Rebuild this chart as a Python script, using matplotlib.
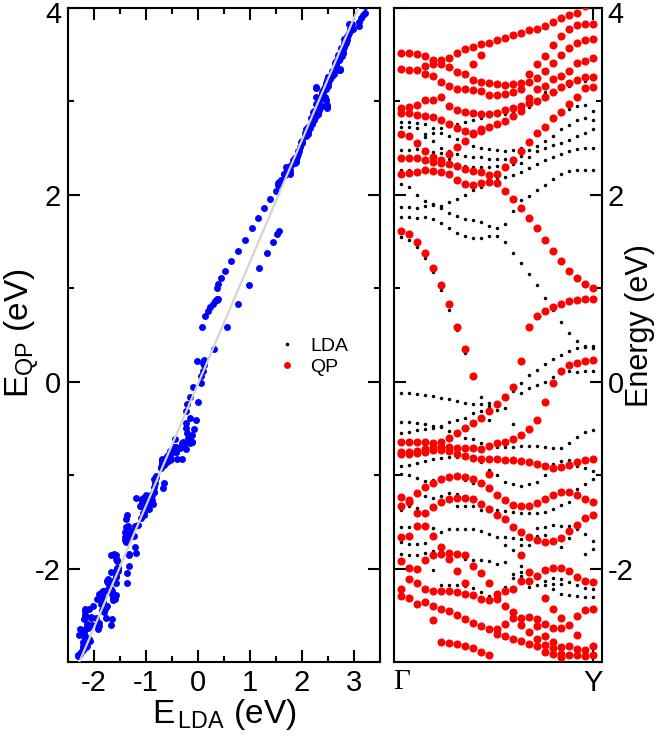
import numpy as np
import matplotlib
matplotlib.use("Agg")
import matplotlib.pyplot as plt
from matplotlib.ticker import MultipleLocator
from matplotlib.lines import Line2D
from matplotlib.transforms import ScaledTranslation

nan = np.nan

# k-path Gamma -> Y, 25 points
kpts = np.arange(25)
k_labels = ["\u0393", "Y"]

# ---- conduction bands: QP (red) and matching LDA (black), eV
qp01 = [3.52, 3.52, 3.51, 3.49, 3.44, 3.44, 3.47, 3.52, 3.56, 3.58, 3.61, 3.63, 3.66, 3.68, 3.71, 3.73, 3.76, 3.78, 3.81, 3.85, 3.89, 3.92, 3.95, 4.02, 4.08]
qp02 = [3.35, 3.34, 3.34, 3.29, 3.27, 3.21, 3.16, 3.13, 3.13, 3.12, 3.11, 3.07, 3.07, 3.08, 3.10, 3.13, 3.21, 3.25, 3.33, 3.41, 3.50, 3.57, 3.63, 3.66, 3.67]
qp03 = [nan, nan, nan, 3.38, 3.40, 3.40, 3.37, 3.32, 3.29, 3.23, 3.21, 3.20, 3.19, 3.18, 3.19, 3.20, 3.29, 3.40, 3.49, 3.60, 3.70, 3.77, 3.82, 3.83, 3.83]
qp04 = [2.93, 2.94, 2.96, 3.01, 3.02, 3.05, 2.95, 2.91, 2.89, 2.88, 2.87, 2.87, 2.88, 2.91, 2.93, 2.95, 3.04, 3.13, 3.17, 3.24, 3.27, 3.33, 3.41, 3.43, 3.46]
qp05 = [2.88, 2.88, 2.86, 2.84, 2.83, 2.80, 2.76, 2.72, 2.68, 2.66, 2.68, 2.73, 2.76, 2.79, 2.84, 2.90, 2.98, 3.00, 3.05, 3.10, 3.15, 3.20, 3.23, 3.26, 3.26]
qp06 = [2.65, 2.63, 2.56, 2.47, 2.40, 2.37, 2.44, 2.51, 2.58, 2.65, 2.70, nan, nan, nan, nan, nan, nan, nan, nan, nan, nan, nan, nan, nan, nan]
qp07 = [2.39, 2.39, 2.39, 2.37, 2.35, 2.34, 2.33, 2.31, 2.28, 2.26, 2.24, 2.21, 2.22, 2.30, 2.37, 2.47, 2.57, 2.66, 2.73, 2.82, 2.89, 2.97, 3.05, 3.14, 3.15]
qp08 = [2.22, 2.23, 2.24, 2.27, 2.26, 2.24, 2.22, 2.16, 2.12, 2.11, 2.13, 2.14, 2.13, 2.04, 1.96, 1.86, 1.75, 1.64, 1.52, 1.40, 1.29, 1.18, 1.11, 1.05, 1.00]
qp09 = [1.61, 1.58, 1.50, 1.38, 1.22, 1.04, 0.83, 0.59, 0.35, 0.06, nan, nan, nan, nan, nan, nan, nan, nan, nan, nan, nan, nan, nan, nan, nan]

ld01 = [2.78, 2.78, 2.77, 2.76, 2.72, 2.72, 2.74, 2.76, 2.78, 2.80, 2.82, 2.84, 2.86, 2.87, 2.89, 2.91, 2.94, 2.98, 3.10, 3.09, 3.14, 3.17, 3.21, 3.22, 3.24]
ld02 = [2.73, 2.73, 2.72, 2.62, 2.58, 2.50, 2.47, 2.44, 2.42, 2.41, 2.40, 2.38, 2.38, 2.38, 2.39, 2.42, 2.48, 2.52, 2.58, 2.63, 2.70, 2.75, 2.80, 2.82, 2.80]
ld03 = [nan, nan, nan, 2.65, 2.66, 2.66, 2.63, 2.60, 2.57, 2.52, 2.50, 2.49, 2.48, 2.47, 2.48, 2.50, 2.58, 2.65, 2.72, 2.80, 2.87, 2.92, 2.95, 2.96, 2.90]
ld04 = [2.48, 2.48, 2.49, 2.47, 2.46, 2.45, 2.38, 2.33, 2.31, 2.30, 2.30, 2.30, 2.31, 2.32, 2.33, 2.34, 2.40, 2.47, 2.50, 2.53, 2.56, 2.59, 2.63, 2.66, 2.70]
ld05 = [2.27, 2.27, 2.26, 2.26, 2.25, 2.24, 2.20, 2.15, 2.11, 2.09, 2.11, 2.14, 2.17, 2.19, 2.21, 2.24, 2.29, 2.33, 2.37, 2.41, 2.44, 2.47, 2.49, 2.50, 2.50]
ld06 = [2.12, 2.08, 2.00, 1.93, 1.90, 1.88, 1.92, 1.96, 2.00, 2.05, 2.08, nan, nan, nan, nan, nan, nan, nan, nan, nan, nan, nan, nan, nan, nan]
ld07 = [1.87, 1.87, 1.86, 1.88, 1.89, 1.86, 1.81, 1.77, 1.74, 1.73, 1.71, 1.67, 1.65, 1.69, 1.83, 1.95, 1.99, 2.05, 2.11, 2.17, 2.22, 2.26, 2.27, 2.27, 2.27]
ld08 = [1.76, 1.76, 1.75, 1.76, 1.74, 1.70, 1.65, 1.59, 1.56, 1.54, 1.54, 1.56, 1.56, 1.50, 1.38, 1.27, 1.15, 1.03, 0.90, 0.77, 0.64, 0.52, 0.44, 0.38, 0.36]
ld09 = [1.55, 1.52, 1.44, 1.32, 1.17, 0.98, 0.77, 0.55, 0.31, 0.05, nan, nan, nan, nan, nan, nan, nan, nan, nan, nan, nan, nan, nan, nan, nan]

# ---- valence bands: QP (red) and matching LDA (black), eV
qv01 = [-0.64, -0.64, -0.64, -0.65, -0.66, -0.65, -0.60, -0.55, -0.50, -0.44, -0.39, -0.31, -0.24, -0.16, -0.06, 0.22, 0.59, 0.70, 0.76, 0.80, 0.83, 0.86, 0.87, 0.88, 0.89]
qv02 = [-0.75, -0.75, -0.74, -0.72, -0.70, -0.70, -0.70, -0.71, -0.71, -0.71, -0.72, -0.69, -0.66, -0.64, -0.61, -0.57, -0.51, -0.41, -0.22, -0.01, 0.11, 0.18, 0.20, 0.22, 0.23]
qv03 = [-0.77, -0.77, -0.76, -0.75, -0.73, -0.73, -0.74, -0.77, -0.80, -0.82, -0.83, -0.83, -0.83, -0.84, -0.84, -0.85, -0.86, -0.88, -0.90, -0.92, -0.91, -0.89, -0.86, -0.84, -0.83]
qv04 = [-1.23, -1.27, -1.19, -1.13, -1.08, -1.04, -1.02, -1.01, -1.02, -1.04, -1.08, -1.14, -1.21, -1.27, -1.32, -1.33, -1.33, -1.30, -1.25, -1.21, -1.18, -1.18, -1.21, -1.26, -1.29]
qv05 = [-1.33, -1.29, -1.40, -1.41, -1.34, -1.29, -1.25, -1.24, -1.24, -1.26, -1.31, -1.36, -1.43, -1.47, -1.56, -1.61, -1.66, -1.69, -1.72, -1.71, -1.67, -1.60, -1.53, -1.46, -1.43]
qv06 = [-1.66, -1.65, -1.54, -1.54, -1.65, -1.77, -1.83, -1.84, -1.86, -1.97, -2.05, -2.15, -2.27, -2.24, -2.22, -1.85, -2.04, -2.08, -2.02, -1.99, -1.99, -2.03, -2.09, -2.13, -2.14]
qv07 = [-1.92, -1.99, -2.00, -1.91, -1.86, -1.84, -1.90, -2.03, -2.15, -2.28, -2.33, -2.34, -2.33, -2.40, -2.47, -2.13, -2.13, -2.54, -2.32, -2.43, -2.53, -2.60, -2.51, -2.44, -2.43]
qv08 = [-2.22, -2.11, -2.15, -2.22, -2.24, -2.24, -2.24, -2.25, -2.27, -2.58, -2.62, -2.65, -2.65, -2.59, -2.53, -2.53, -2.52, -2.61, -2.59, -2.64, -2.64, -2.83, -2.71, -2.87, -2.83]
qv09 = [-2.29, -2.31, -2.38, -2.36, -2.40, -2.43, -2.45, -2.50, -2.54, -2.85, -2.89, -2.92, -2.70, -2.72, -2.75, -2.60, -2.68, -2.75, -2.72, -2.79, -2.84, -2.93, -2.86, -2.94, -2.93]
qv10 = [nan, nan, nan, nan, -2.55, -2.79, -2.80, -2.81, -2.83, nan, nan, nan, nan, nan, nan, -2.78, -2.81, -2.83, -2.82, -2.85, -2.91, nan, -2.93, nan, nan]
qv11 = [nan, nan, nan, nan, nan, nan, nan, nan, nan, nan, nan, nan, nan, nan, nan, nan, nan, nan, -2.89, -2.91, -2.95, nan, nan, nan, nan]
qv12 = [nan, nan, nan, nan, nan, nan, nan, nan, nan, 3.40, 3.50, -0.99, nan, nan, nan, nan, nan, nan, nan, nan, nan, nan, nan, nan, nan]

lv01 = [-0.12, -0.12, -0.13, -0.14, -0.15, -0.17, -0.19, -0.21, -0.23, -0.24, -0.16, -0.23, -0.22, -0.15, -0.10, -0.01, 0.07, 0.13, 0.19, 0.24, 0.29, 0.33, 0.36, 0.37, 0.38]
lv02 = [-0.43, -0.43, -0.44, -0.45, -0.47, -0.47, -0.43, -0.41, -0.39, -0.34, -0.24, -0.26, -0.30, -0.28, -0.45, -0.12, -0.07, -0.04, 0.00, 0.05, 0.09, 0.11, 0.10, 0.11, 0.11]
lv03 = [-0.55, -0.54, -0.52, -0.51, -0.50, -0.49, -0.53, -0.54, -0.60, -0.61, -0.31, -0.41, -0.70, -0.70, -0.70, -0.69, -0.69, -0.69, -0.70, -0.71, -0.71, -0.66, -0.59, -0.54, -0.52]
lv04 = [-0.90, -0.89, -0.87, -0.85, -0.83, -0.82, -0.81, -0.81, -0.80, -0.84, -0.66, -0.68, -1.00, -1.07, -1.10, -1.12, -1.10, -1.07, -1.00, -0.88, -0.85, -0.84, -0.90, -0.92, -0.96]
lv05 = [-0.99, -1.00, -1.03, -1.06, -1.05, -1.05, -1.03, -1.20, -1.05, -1.08, -0.86, -0.94, -1.37, -1.38, -1.39, -1.40, -1.40, -1.40, -1.39, -1.36, -1.32, -1.29, -1.15, -1.09, -1.04]
lv06 = [-1.37, -1.33, -1.35, -1.22, -1.24, -1.22, -1.19, -1.33, -1.33, -1.33, -1.37, -1.37, -1.66, -1.66, -1.67, -1.68, -1.67, -1.57, -1.56, -1.53, -1.54, -1.54, -1.58, -1.63, -1.70]
lv07 = [-1.56, -1.55, -1.54, -1.56, -1.57, -1.61, -1.58, -1.58, -1.58, -1.58, -1.60, -1.63, -1.95, -1.75, -1.80, -1.75, -1.75, -1.65, -1.64, -2.10, -1.77, -1.67, -2.18, -1.84, -1.79]
lv08 = [-1.72, -1.74, -1.74, -1.73, -1.81, -1.80, -1.82, -1.85, -1.90, -1.91, -1.91, -1.92, -2.27, -1.93, -2.06, -1.97, -2.06, -2.10, -2.13, -2.16, -2.11, -2.14, -2.29, -2.21, -2.22]
lv09 = [-1.84, -1.86, -1.86, -1.83, -2.01, -2.18, -2.18, -2.18, -2.19, -2.21, -2.25, -2.29, nan, -2.20, -2.10, -2.04, -2.20, -2.18, -2.18, -2.22, -2.16, -2.28, nan, -2.30, -2.30]
lv10 = [nan, nan, nan, nan, nan, nan, nan, nan, nan, nan, nan, nan, nan, nan, nan, -2.08, nan, nan, nan, nan, -2.27, nan, nan, nan, nan]
lv11 = [nan] * 25
lv12 = [nan] * 25

# light grey guide line in the left panel (two end points)
guide_lda = [-2.32, 3.12]
guide_qp = [-3.05, 4.05]

qp = np.array([qp01, qp02, qp03, qp04, qp05, qp06, qp07, qp08, qp09,
               qv01, qv02, qv03, qv04, qv05, qv06, qv07, qv08, qv09, qv10, qv11, qv12])
lda = np.array([ld01, ld02, ld03, ld04, ld05, ld06, ld07, ld08, ld09,
                lv01, lv02, lv03, lv04, lv05, lv06, lv07, lv08, lv09, lv10, lv11, lv12])

plt.rcParams['font.family'] = ['Liberation Sans', 'DejaVu Sans']
plt.rcParams['mathtext.fontset'] = 'custom'
plt.rcParams['mathtext.rm'] = 'Liberation Sans'
plt.rcParams['mathtext.it'] = 'Liberation Sans:italic'
plt.rcParams['axes.unicode_minus'] = False
plt.rcParams['axes.linewidth'] = 1.5

W, H = 656, 740
fig = plt.figure(figsize=(W / 100, H / 100), dpi=100)
ax1 = fig.add_axes([68 / W, 78 / H, 312 / W, 654 / H])
ax2 = fig.add_axes([394 / W, 78 / H, 208 / W, 654 / H])


def style_ticks(ax):
    ax.tick_params(which='both', direction='in', top=True, right=True, width=1.5, labelsize=21)
    ax.tick_params(which='major', length=8.5)
    ax.tick_params(which='minor', length=4.3)


# ---- left panel: QP vs LDA
ax1.plot(lda.ravel(), qp.ravel(), 'o', color='#0000ff', ms=5.0, mec='none', ls='none', zorder=2)
ax1.plot(guide_lda, guide_qp, color='#d4d4d4', lw=1.6, zorder=3)
ax1.set_xlim(-2.5, 3.5)
ax1.set_ylim(-3, 4)
ax1.xaxis.set_major_locator(MultipleLocator(1))
ax1.xaxis.set_minor_locator(MultipleLocator(0.5))
ax1.yaxis.set_major_locator(MultipleLocator(2))
ax1.yaxis.set_minor_locator(MultipleLocator(1))
style_ticks(ax1)
ax1.tick_params(axis='x', pad=5)
ax1.tick_params(axis='y', pad=5)
ax1.set_xlabel(r'E$_{\,\rm LDA}$ (eV)', fontsize=24, labelpad=0)
ax1.set_ylabel(r'E$_{\rm QP}$ (eV)', fontsize=24)
ax1.yaxis.set_label_coords(-0.083, 0.503)

handles = [Line2D([], [], marker='o', ls='none', color='k', ms=2.6, mec='none'),
           Line2D([], [], marker='o', ls='none', color='#ff0000', ms=5.0, mec='none')]
ax1.legend(handles, ['LDA', 'QP'], loc='center left', bbox_to_anchor=(0.671, 0.467),
           frameon=False, fontsize=14, handlelength=1.0, handletextpad=0.69,
           labelspacing=0.15, borderpad=0, borderaxespad=0)

# ---- right panel: band structure
for row in lda:
    ax2.plot(kpts, row, 'o', color='k', ms=2.5, mec='none', ls='none', zorder=2)
for row in qp:
    ax2.plot(kpts, row, 'o', color='#ff0000', ms=5.8, mec='none', ls='none', zorder=3)
ax2.set_xlim(-0.91, 25.1)
ax2.set_ylim(-3, 4)
ax2.set_xticks([kpts[0], kpts[-1]])
ax2.set_xticklabels(k_labels)
ax2.yaxis.set_major_locator(MultipleLocator(2))
ax2.yaxis.set_minor_locator(MultipleLocator(1))
style_ticks(ax2)
ax2.tick_params(axis='y', labelleft=False, labelright=True, pad=4)
ax2.tick_params(axis='x', pad=5)
ax2.xaxis.get_major_ticks()[0].tick1line.set_visible(False)
ax2.xaxis.get_major_ticks()[0].tick2line.set_visible(False)
ax2.get_xticklabels()[0].set_family(['Liberation Serif', 'DejaVu Serif'])
ax2.yaxis.set_label_position('right')
ax2.set_ylabel('Energy (eV)', fontsize=22)
ax2.yaxis.set_label_coords(1.112, 0.515)

# the "4" labels sit at the very top edge; nudge them down a few pixels
fig.canvas.draw()
nudge = ScaledTranslation(0, -4 / 100, fig.dpi_scale_trans)
for ax in (ax1, ax2):
    for tick in ax.yaxis.get_major_ticks():
        if abs(tick.get_loc() - 4) < 1e-6:
            tick.label1.set_transform(tick.label1.get_transform() + nudge)
            tick.label2.set_transform(tick.label2.get_transform() + nudge)

fig.savefig('out.png', dpi=100)
